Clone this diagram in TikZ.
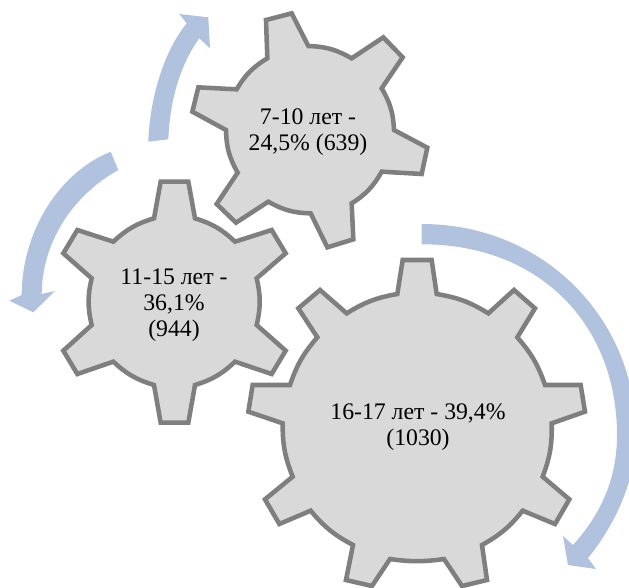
\documentclass[tikz,border=0pt]{standalone}
\usepackage{fontspec}
\setmainfont{Liberation Serif}
\tikzset{
  x=0.75pt,y=-0.75pt,
  gear/.style={draw=gearline,line width=3.4pt,fill=gearfill,line join=miter,miter limit=3},
  flow/.style={fill=flowblue,draw=none},
  lab/.style={align=center,font=\fontsize{17.8}{19.4}\selectfont,text=black,inner sep=0pt},
}
\definecolor{gearline}{HTML}{7F7F7F}
\definecolor{gearfill}{HTML}{D9D9D9}
\definecolor{flowblue}{HTML}{B0C2DE}
\begin{document}
\begin{tikzpicture}
\useasboundingbox (0,0) rectangle (629,587);
\begin{scope}
\clip (0,0) rectangle (629,587);
% top gear
\begin{scope}[shift={(140,0)},x=0.25pt,y=-0.25pt]
\draw[gear] (382,175)--(378,60)--(455,40)--(505,138) to[bend left=14] (635,175)
 --(730,112)--(788,172)--(725,265) to[bend left=14] (762,390)
 --(862,443)--(845,522)--(725,515) to[bend left=14] (635,610)
 --(640,718)--(562,742)--(512,640) to[bend left=14] (385,605)
 --(288,668)--(230,612)--(293,518) to[bend left=14] (258,390)
 --(157,335)--(175,262)--(290,268) to[bend left=14] (382,175) --cycle;
\end{scope}
% left gear
\begin{scope}[shift={(0,140)},x=0.25pt,y=-0.25pt]
\draw[gear] (462,235)--(482,125)--(565,125)--(585,235) to[bend left=13] (705,305)
 --(815,270)--(857,340)--(770,415) to[bend left=13] (770,555)
 --(857,632)--(815,702)--(705,665) to[bend left=13] (585,735)
 --(565,848)--(482,848)--(462,735) to[bend left=13] (340,665)
 --(232,702)--(190,632)--(275,555) to[bend left=13] (275,415)
 --(190,340)--(232,270)--(340,305) to[bend left=13] (462,235) --cycle;
\end{scope}
% big gear
\begin{scope}[shift={(240,210)},x=0.25pt,y=-0.25pt]
\draw[gear] (472,252)--(488,150)--(575,150)--(590,252) to[bend left=11] (745,310)
 --(822,240)--(885,295)--(832,382) to[bend left=11] (915,525)
 --(1022,525)--(1035,605)--(935,640) to[bend left=11] (908,800)
 --(988,868)--(945,942)--(848,902) to[bend left=11] (726,1005)
 --(741,1110)--(666,1128)--(612,1047) to[bend left=8] (450,1047)
 --(396,1128)--(318,1110)--(339,1005) to[bend left=11] (212,902)
 --(118,942)--(75,868)--(158,800) to[bend left=11] (128,640)
 --(25,605)--(38,525)--(150,525) to[bend left=11] (232,382)
 --(175,295)--(240,240)--(320,310) to[bend left=11] (472,252) --cycle;
\end{scope}
% arrows
\fill[flow] (148.3,141.7) .. controls (150,95) and (165,50) .. (186.7,23.3)
 -- (179.3,14) -- (208.3,17.3) -- (210,48.3) -- (199.3,38.3)
 .. controls (180,65) and (170,100) .. (168.3,139.3) -- cycle;
\fill[flow] (110.7,151.7) .. controls (60,172) and (22,230) .. (21.7,295)
 -- (9.3,300.7) -- (33.3,312.3) -- (55,291) -- (41.7,294)
 .. controls (42,245) and (70,197) .. (118.3,170) -- cycle;
\fill[flow] (421.7,224) .. controls (545,224) and (636,320) .. (636,435)
 .. controls (636,480) and (615,525) .. (588,558)
 -- (596,569) -- (568,565) -- (563,536) -- (573,545)
 .. controls (600,515) and (617,480) .. (617,435)
 .. controls (617,325) and (540,244) .. (421.7,244.3) -- cycle;
\end{scope}
\node[lab] (a) at (308,132.5) {7-10 лет -\\24,5\% (639)};
\node[lab] (b) at (174,305.5) {11-15 лет -\\36,1\%\\(944)};
\node[lab] (c) at (418,427.5) {16-17 лет - 39,4\%\\(1030)};
\end{tikzpicture}
\end{document}
